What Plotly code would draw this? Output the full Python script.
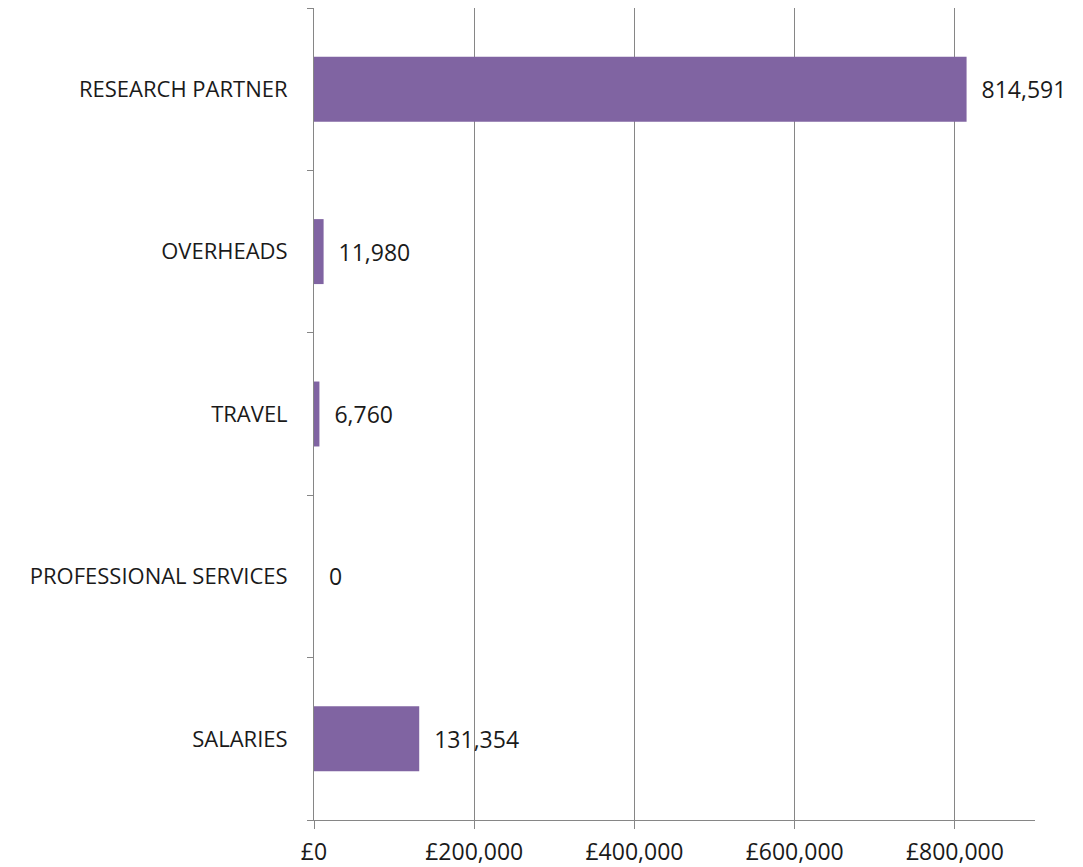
import plotly.graph_objects as go

# Categories listed bottom to top (plotly draws the first category at the bottom)
categories = ["SALARIES", "PROFESSIONAL SERVICES", "TRAVEL", "OVERHEADS", "RESEARCH PARTNER"]
amounts = [131354, 0, 6760, 11980, 814591]

x_tickvals = [0, 200000, 400000, 600000, 800000]
x_ticktext = ["£0", "£200,000", "£400,000", "£600,000", "£800,000"]

grey = "#868686"
font = "Open Sans, Noto Sans, sans-serif"

fig = go.Figure(
    go.Bar(
        x=amounts,
        y=categories,
        orientation="h",
        marker=dict(color="#8064A2", line=dict(width=0)),
        texttemplate="\u00a0\u00a0%{x:,}",
        textposition="outside",
        textfont=dict(size=23, color="#1a1a1a", family=font),
        cliponaxis=False,
    )
)

# the page body adds an 8px offset, margins are set to compensate
fig.update_layout(
    width=1083,
    height=867,
    margin=dict(l=306, r=56, t=0, b=55),
    plot_bgcolor="white",
    paper_bgcolor="white",
    showlegend=False,
    bargap=0.6,
    font=dict(family=font, size=22, color="#1a1a1a"),
    xaxis=dict(
        range=[0, 900000],
        tickvals=x_tickvals,
        ticktext=x_ticktext,
        showgrid=True,
        gridcolor=grey,
        gridwidth=1,
        zeroline=False,
        showline=True,
        linecolor=grey,
        linewidth=1,
        ticks="outside",
        ticklen=8,
        tickcolor=grey,
        ticklabelstandoff=3,
        tickfont=dict(size=23),
    ),
    yaxis=dict(
        categoryorder="array",
        categoryarray=categories,
        showgrid=False,
        zeroline=False,
        showline=True,
        linecolor=grey,
        linewidth=1,
        ticks="outside",
        tickson="boundaries",
        ticklen=6,
        tickcolor=grey,
        ticklabelstandoff=21,
        tickfont=dict(size=22),
    ),
)

fig.write_html("out.html")
